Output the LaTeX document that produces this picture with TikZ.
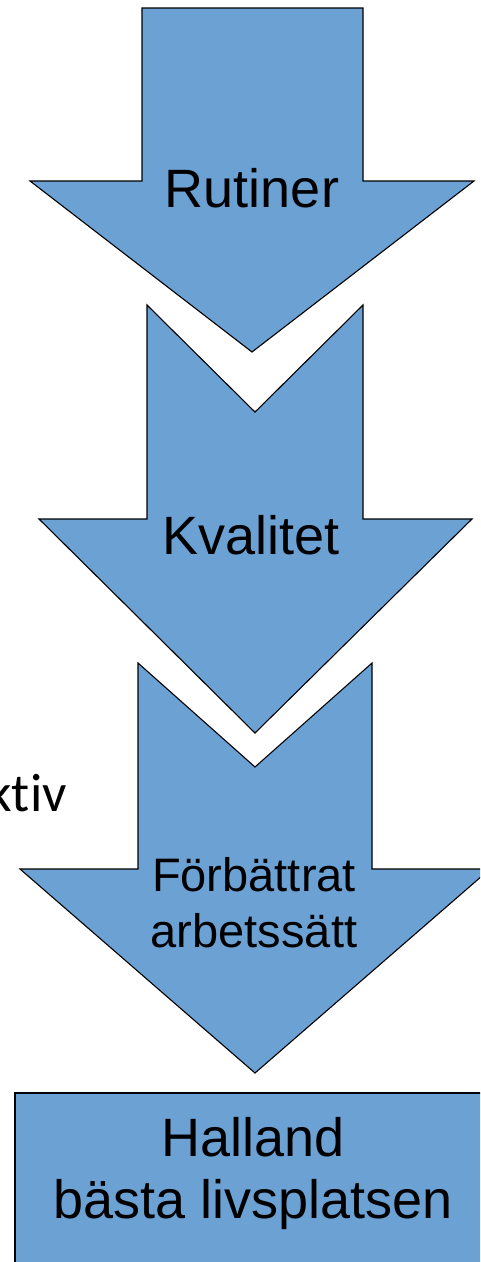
\documentclass[tikz,border=0pt]{standalone}
\usepackage{fontspec}
\setmainfont{Liberation Sans}
\newfontfamily\sidefont[Ligatures={NoCommon,NoRare,NoDiscretionary}]{Carlito}
\definecolor{arrowblue}{RGB}{108,161,212}
\tikzset{
  blockarrow/.style={fill=arrowblue, draw=black, line width=1.1pt, line join=miter},
  biglabel/.style={inner sep=0pt, anchor=base, font=\fontsize{54}{62}\selectfont},
  midlabel/.style={inner sep=0pt, anchor=base, font=\fontsize{47}{56}\selectfont},
}
\begin{document}
\begin{tikzpicture}[x=1pt, y=-1pt]
  \useasboundingbox (0,0) rectangle (480,1262);
  \clip (0,0) rectangle (480,1262);

  % first arrow: straight top
  \draw[blockarrow] (142,8) -- (363,8) -- (363,181) -- (474,181)
    -- (252,352) -- (30,181) -- (142,181) -- cycle;

  % second arrow: notched top
  \draw[blockarrow] (147,305) -- (255,412) -- (363,305) -- (363,519)
    -- (472,519) -- (255,733) -- (39,519) -- (147,519) -- cycle;

  % third arrow: notched top, head runs past the right edge
  \draw[blockarrow] (138,663) -- (255,767) -- (372,663) -- (372,869)
    -- (490,869) -- (255,1073) -- (20,869) -- (138,869) -- cycle;

  % goal box, running past the right and bottom edges
  \draw[blockarrow] (15,1093) rectangle (491,1300);

  \node[biglabel] (rutiner) at (252,207) {Rutiner};
  \node[biglabel] (kvalitet) at (251,554) {Kvalitet};
  \node[midlabel] (forb1) at (254,891) {Förbättrat};
  \node[midlabel] (forb2) at (254,947) {arbetssätt};
  \node[biglabel] (hall1) at (253,1156) {Halland};
  \node[biglabel] (hall2) at (253,1218) {bästa livsplatsen};

  \node[inner sep=0pt, anchor=base east, font=\sidefont\fontsize{54}{62}\selectfont]
    (side) at (67,811) {ktiv};
\end{tikzpicture}
\end{document}
